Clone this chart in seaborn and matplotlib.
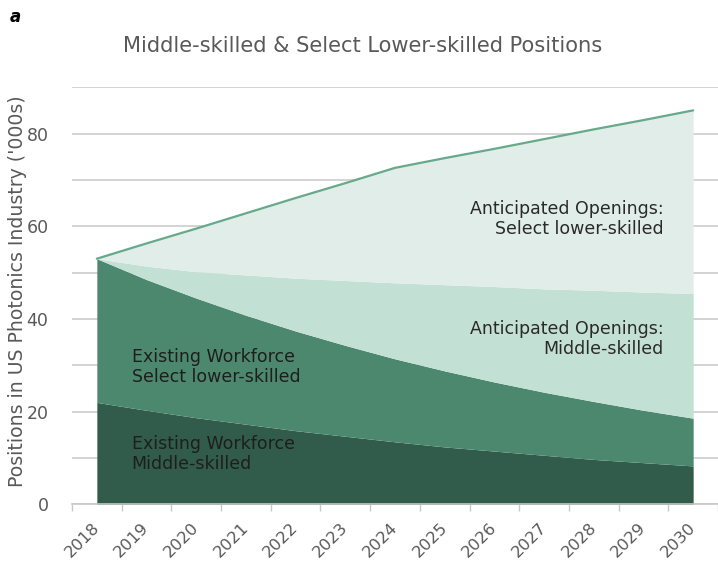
import numpy as np
import pandas as pd
import matplotlib
matplotlib.use("Agg")
import matplotlib.pyplot as plt
import seaborn as sns

years = [str(y) for y in range(2018, 2031)]

# thousands of positions, stacked bottom to top
existing_middle = [22.0, 20.3, 18.7, 17.3, 15.9, 14.7, 13.5, 12.4, 11.5, 10.6, 9.7, 9.0, 8.3]
existing_lower = [31.0, 28.2, 25.8, 23.5, 21.5, 19.6, 17.9, 16.4, 14.9, 13.6, 12.5, 11.3, 10.3]
openings_middle = [0.0, 2.9, 5.7, 8.7, 11.4, 14.0, 16.4, 18.6, 20.6, 22.3, 24.0, 25.5, 26.9]
openings_lower = [0.0, 4.9, 9.3, 13.3, 17.3, 21.0, 24.8, 27.3, 29.7, 32.3, 34.7, 37.1, 39.5]

layer_names = ["Existing Workforce\nMiddle-skilled",
               "Existing Workforce\nSelect lower-skilled",
               "Anticipated Openings:\nMiddle-skilled",
               "Anticipated Openings:\nSelect lower-skilled"]
colors = ["#315B4A", "#4B886E", "#C3E0D4", "#E0EDE8"]

df = pd.DataFrame({
    "year": years,
    "em": existing_middle,
    "el": existing_lower,
    "om": openings_middle,
    "ol": openings_lower,
})
df["pos"] = np.arange(len(df))
df["total"] = df[["em", "el", "om", "ol"]].sum(axis=1)

sns.set_theme(style="white")
plt.rcParams["font.family"] = ["DejaVu Sans"]
grey = "#595959"

fig = plt.figure(figsize=(7.18, 5.61), dpi=100)
ax = fig.add_axes([72 / 718, 1 - 504.4 / 561, 1 - 72 / 718, (504.4 - 87.2) / 561])

ax.stackplot(df["pos"], df["em"], df["el"], df["om"], df["ol"],
             colors=colors, linewidth=0, zorder=2)
sns.lineplot(data=df, x="pos", y="total", color="#66A98B", linewidth=1.6,
             ax=ax, zorder=3)

ax.set_xlim(-0.5, 12.42)
ax.set_ylim(0, 90)
ax.set_yticks(range(0, 91, 10))
ax.set_yticklabels([str(v) if v % 20 == 0 else "" for v in range(0, 91, 10)])
ax.yaxis.grid(True, color="#C8C8C8", linewidth=1.1, zorder=0)
ax.set_axisbelow(True)
ax.tick_params(axis="y", length=0, pad=17, labelsize=12.5, labelcolor=grey)

ax.set_xticks(df["pos"])
ax.set_xticklabels(years, rotation=45, ha="right", rotation_mode="anchor",
                   fontsize=11.8, color=grey)
ax.set_xticks(np.arange(-0.5, 13, 1), minor=True)
ax.tick_params(axis="x", which="major", length=0, pad=15)
ax.tick_params(axis="x", which="minor", length=5, width=1, color="#C8C8C8",
               bottom=True, direction="out")
for lab in ax.get_xticklabels():
    lab.set_verticalalignment("center")

for side in ["top", "right", "left"]:
    ax.spines[side].set_visible(False)
ax.spines["bottom"].set_color("#C8C8C8")
ax.spines["bottom"].set_linewidth(1.2)

ax.set_xlabel("")
ax.set_ylabel("")
fig.text(18 / 718, 1 - 291 / 561, "Positions in US Photonics Industry ('000s)",
         rotation=90, ha="center", va="center", fontsize=13.6, color=grey)

txt_kw = dict(fontsize=12.5, va="center", linespacing=1.15, zorder=4)
ax.text(0.7, 10.9, layer_names[0], color="#1E1E1E", ha="left", **txt_kw)
ax.text(0.7, 29.6, layer_names[1], color="#1E1E1E", ha="left", **txt_kw)
ax.text(11.4, 35.6, layer_names[2], color="#2A2A2A", ha="right", **txt_kw)
ax.text(11.4, 61.5, layer_names[3], color="#2A2A2A", ha="right", **txt_kw)

fig.text(363 / 718, 1 - 46 / 561, "Middle-skilled & Select Lower-skilled Positions",
         ha="center", va="center", fontsize=15.1, color=grey)
fig.text(10 / 718, 1 - 17 / 561, "a", ha="left", va="center", fontsize=12,
         fontweight="bold", fontstyle="italic", color="black")

fig.savefig("out.png", dpi=100)
